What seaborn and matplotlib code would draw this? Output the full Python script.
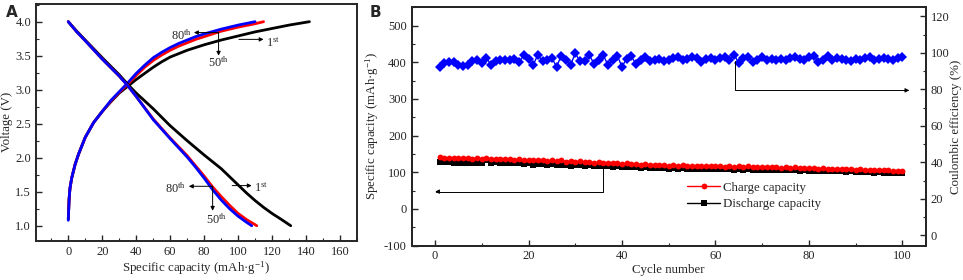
import numpy as np
import pandas as pd
import matplotlib
matplotlib.use("Agg")
import matplotlib.pyplot as plt
import seaborn as sns
from matplotlib.ticker import MultipleLocator

# ---------------- Data: panel A (voltage profiles) ----------------
ch1_cap = [0, 0.5, 1, 2, 4, 6, 10, 15, 20, 25, 30, 35, 40, 45, 50, 55, 60, 65, 70, 75, 80, 90, 100, 110, 120, 130, 142]
ch1_v = [1.1, 1.4, 1.55, 1.7, 1.9, 2.05, 2.3, 2.52, 2.68, 2.82, 2.95, 3.05, 3.15, 3.24, 3.33, 3.41, 3.48, 3.53, 3.58, 3.62, 3.66, 3.73, 3.79, 3.85, 3.9, 3.95, 4.0]
ch50_cap = [0, 0.5, 1, 2, 4, 6, 10, 15, 20, 25, 30, 35, 40, 45, 50, 55, 60, 65, 70, 75, 80, 90, 100, 110, 115]
ch50_v = [1.1, 1.4, 1.55, 1.7, 1.9, 2.05, 2.3, 2.52, 2.68, 2.83, 2.96, 3.08, 3.21, 3.33, 3.43, 3.51, 3.58, 3.64, 3.69, 3.74, 3.78, 3.86, 3.92, 3.97, 4.0]
ch80_cap = [0, 0.5, 1, 2, 4, 6, 10, 15, 20, 25, 30, 35, 40, 45, 50, 55, 60, 65, 70, 75, 80, 90, 100, 110]
ch80_v = [1.08, 1.4, 1.55, 1.7, 1.9, 2.05, 2.3, 2.52, 2.68, 2.84, 2.97, 3.1, 3.24, 3.36, 3.47, 3.55, 3.62, 3.68, 3.73, 3.78, 3.82, 3.89, 3.95, 4.0]

dis1_cap = [0, 5, 10, 20, 30, 35, 40, 50, 60, 70, 80, 90, 100, 105, 110, 115, 120, 125, 131]
dis1_v = [4.0, 3.86, 3.73, 3.47, 3.22, 3.08, 2.95, 2.72, 2.47, 2.25, 2.04, 1.84, 1.6, 1.48, 1.37, 1.27, 1.18, 1.1, 1.0]
dis50_cap = [0, 5, 10, 20, 30, 35, 40, 50, 60, 70, 75, 80, 85, 90, 95, 100, 105, 111]
dis50_v = [4.0, 3.85, 3.72, 3.45, 3.2, 3.06, 2.9, 2.57, 2.29, 2.03, 1.88, 1.73, 1.57, 1.43, 1.30, 1.18, 1.09, 1.0]
dis80_cap = [0, 5, 10, 20, 30, 35, 40, 50, 60, 70, 75, 80, 85, 90, 95, 100, 105, 108]
dis80_v = [4.0, 3.85, 3.72, 3.45, 3.2, 3.06, 2.9, 2.56, 2.28, 2.01, 1.86, 1.70, 1.53, 1.38, 1.25, 1.14, 1.05, 1.0]

# ---------------- Data: panel B (cycling) ----------------
cycles = list(range(1, 101))
charge_cap = [142, 140, 139, 139, 138, 138, 139, 137, 138, 137,
              138, 137, 136, 137, 135, 136, 134, 136, 133, 134,
              133, 132, 133, 131, 132, 130, 132, 129, 131, 128,
              130, 127, 129, 126, 127, 125, 126, 124, 125, 123,
              124, 122, 123, 121, 122, 120, 121, 119, 120, 118,
              119, 118, 119, 117, 118, 117, 118, 116, 117, 116,
              117, 115, 116, 115, 116, 114, 116, 114, 115, 113,
              114, 113, 114, 112, 113, 112, 113, 111, 112, 111,
              111, 110, 111, 109, 110, 109, 110, 108, 109, 107,
              108, 107, 107, 106, 106, 105, 105, 104, 103, 103]
discharge_cap = [128, 127, 127, 126, 126, 125, 126, 125, 125, 124,
                 133, 126, 127, 126, 125, 125, 124, 125, 123, 124,
                 119, 123, 122, 121, 122, 119, 121, 120, 117, 120,
                 119, 118, 119, 117, 118, 116, 117, 114, 116, 113,
                 115, 113, 114, 112, 113, 111, 112, 111, 111, 110,
                 111, 110, 111, 109, 110, 109, 110, 108, 109, 108,
                 109, 108, 109, 107, 108, 107, 108, 107, 107, 106,
                 107, 106, 106, 105, 106, 105, 105, 104, 105, 104,
                 104, 103, 104, 103, 103, 102, 103, 101, 102, 101,
                 101, 100, 100, 99, 100, 99, 99, 98, 98, 97]
efficiency = [92.4, 94.5, 94.9, 94.9, 93.5, 92.9, 93.5, 95.3, 95.9, 94.5,
              97.3, 93.3, 95.6, 96.3, 95.9, 96.1, 96.9, 94.9, 98.9, 96.5,
              93.5, 98.9, 95.5, 95.9, 97.3, 92.4, 98.5, 95.9, 93.3, 99.9,
              95.3, 95.5, 98.9, 94.1, 96.1, 98.9, 93.3, 95.9, 98.5, 92.4,
              96.9, 98.1, 93.9, 95.9, 97.9, 95.3, 95.9, 96.9, 95.3, 96.0,
              97.0, 98.0, 96.0, 96.5, 98.0, 97.0, 95.0, 96.5, 97.0, 96.0,
              97.0, 98.0, 96.0, 99.0, 94.5, 97.0, 98.0, 95.0, 96.0, 98.0,
              96.0, 96.5, 96.0, 96.5, 96.0, 97.0, 97.5, 96.5, 96.0, 97.5,
              98.5, 95.0, 96.0, 98.5, 96.0, 97.0, 96.5, 96.0, 95.5, 96.5,
              96.0, 97.0, 98.0, 96.0, 96.5, 97.0, 96.5, 96.0, 97.0, 98.0]

# ---------------- Style ----------------
sns.set_style("ticks")
plt.rcParams["font.family"] = ["Liberation Serif", "DejaVu Serif"]
plt.rcParams["mathtext.default"] = "regular"
plt.rcParams["axes.unicode_minus"] = False
plt.rcParams["axes.linewidth"] = 1.4
plt.rcParams["xtick.direction"] = "in"
plt.rcParams["ytick.direction"] = "in"

TICK_FS = 9
LABEL_FS = 9.3
ANN_FS = 8.8

fig = plt.figure(figsize=(9.63, 2.80), dpi=100)
axA = fig.add_axes([0.0374, 0.1404, 0.3333, 0.8453])
axB = fig.add_axes([0.4275, 0.1232, 0.5338, 0.8508])

# ---------------- Panel A ----------------
curves = [
    (ch1_cap, ch1_v, "black"), (ch50_cap, ch50_v, "#ff0000"), (ch80_cap, ch80_v, "#0000ff"),
    (dis1_cap, dis1_v, "black"), (dis50_cap, dis50_v, "#ff0000"), (dis80_cap, dis80_v, "#0000ff"),
]
for xs, ys, col in curves:
    sns.lineplot(x=xs, y=ys, ax=axA, color=col, lw=2.0, sort=False, estimator=None)

axA.set_xlim(-19, 170)
axA.set_ylim(0.78, 4.26)
axA.set_xticks([0, 20, 40, 60, 80, 100, 120, 140, 160])
axA.xaxis.set_minor_locator(MultipleLocator(10))
axA.set_yticks([1.0, 1.5, 2.0, 2.5, 3.0, 3.5, 4.0])
axA.set_yticklabels(["1.0", "1.5", "2.0", "2.5", "3.0", "3.5", "4.0"])
axA.yaxis.set_minor_locator(MultipleLocator(0.25))
axA.tick_params(which="major", length=4, width=1.0, labelsize=TICK_FS, top=False, right=False)
axA.tick_params(which="minor", length=2, width=0.8, top=False, right=False)
axA.set_xlabel("Specific capacity (mAh·g$^{-1}$)", fontsize=LABEL_FS, labelpad=1)
axA.set_ylabel("Voltage (V)", fontsize=LABEL_FS, labelpad=2)

arr = dict(arrowstyle="-|>", color="black", lw=0.7, mutation_scale=6, shrinkA=0, shrinkB=0)
# upper annotations
axA.annotate("", xy=(74, 3.84), xytext=(88.5, 3.84), arrowprops=arr)
axA.annotate("", xy=(88.5, 3.50), xytext=(88.5, 3.84), arrowprops=arr)
axA.annotate("", xy=(115, 3.74), xytext=(100.5, 3.74), arrowprops=arr)
axA.text(73, 3.80, "80$^{th}$", fontsize=ANN_FS, ha="right", va="center")
axA.text(88.5, 3.40, "50$^{th}$", fontsize=ANN_FS, ha="center", va="center")
axA.text(116.5, 3.69, "1$^{st}$", fontsize=ANN_FS, ha="left", va="center")
# lower annotations
axA.annotate("", xy=(71, 1.58), xytext=(85, 1.58), arrowprops=arr)
axA.annotate("", xy=(85, 1.22), xytext=(85, 1.58), arrowprops=arr)
axA.annotate("", xy=(108, 1.59), xytext=(96.5, 1.59), arrowprops=arr)
axA.text(69.5, 1.54, "80$^{th}$", fontsize=ANN_FS, ha="right", va="center")
axA.text(87, 1.09, "50$^{th}$", fontsize=ANN_FS, ha="center", va="center")
axA.text(109.5, 1.55, "1$^{st}$", fontsize=ANN_FS, ha="left", va="center")

fig.text(0.006, 0.955, "A", fontsize=11, fontweight="bold", family="DejaVu Sans", ha="left", va="center")

# ---------------- Panel B ----------------
dfB = pd.DataFrame({"cycle": cycles, "charge": charge_cap,
                    "discharge": discharge_cap, "eff": efficiency})

axB2 = axB.twinx()
sns.lineplot(data=dfB, x="cycle", y="charge", ax=axB, color="#ff0000", marker="o",
             markersize=4.2, markeredgewidth=0, lw=1.0, label="Charge capacity", zorder=3)
sns.lineplot(data=dfB, x="cycle", y="discharge", ax=axB, color="black", marker="s",
             markersize=4.8, markeredgewidth=0, lw=1.0, label="Discharge capacity", zorder=2)
sns.lineplot(data=dfB, x="cycle", y="eff", ax=axB2, color="#0000ff", marker="D",
             markersize=5.0, markeredgewidth=0, lw=1.0, legend=False)

axB.set_xlim(-5, 105)
axB.set_ylim(-100, 550)
axB.set_xticks([0, 20, 40, 60, 80, 100])
axB.xaxis.set_minor_locator(MultipleLocator(10))
axB.set_yticks([-100, 0, 100, 200, 300, 400, 500])
axB.yaxis.set_minor_locator(MultipleLocator(50))
axB2.set_ylim(-5.5, 125)
axB2.set_yticks([0, 20, 40, 60, 80, 100, 120])
axB2.yaxis.set_minor_locator(MultipleLocator(10))
for a in (axB, axB2):
    a.tick_params(which="major", length=4, width=1.0, labelsize=TICK_FS, direction="in")
    a.tick_params(which="minor", length=2, width=0.8, direction="in")
axB.tick_params(right=False, top=False)
axB.tick_params(which="minor", right=False, top=False)
axB2.spines["right"].set_linewidth(1.4)

axB.set_xlabel("Cycle number", fontsize=LABEL_FS, labelpad=1)
axB.set_ylabel("Specific capacity (mAh·g$^{-1}$)", fontsize=LABEL_FS, labelpad=2)
axB2.set_ylabel("Coulombic efficiency (%)", fontsize=LABEL_FS, labelpad=0.5)

arr2 = dict(arrowstyle="-|>", color="black", lw=0.7, mutation_scale=6, shrinkA=0, shrinkB=0,
            connectionstyle="angle,angleA=90,angleB=0,rad=0")
axB.annotate("", xy=(0, 47), xytext=(36, 117), arrowprops=arr2)
axB2.annotate("", xy=(101.5, 79.5), xytext=(64.2, 95.5), arrowprops=arr2)

leg = axB.legend(loc="upper left", bbox_to_anchor=(0.525, 0.29), frameon=False,
                 fontsize=LABEL_FS, handlelength=2.6, handletextpad=0.2,
                 labelspacing=0.35, borderaxespad=0)

fig.text(0.384, 0.955, "B", fontsize=11, fontweight="bold", family="DejaVu Sans", ha="left", va="center")

fig.savefig("out.png", dpi=100)
